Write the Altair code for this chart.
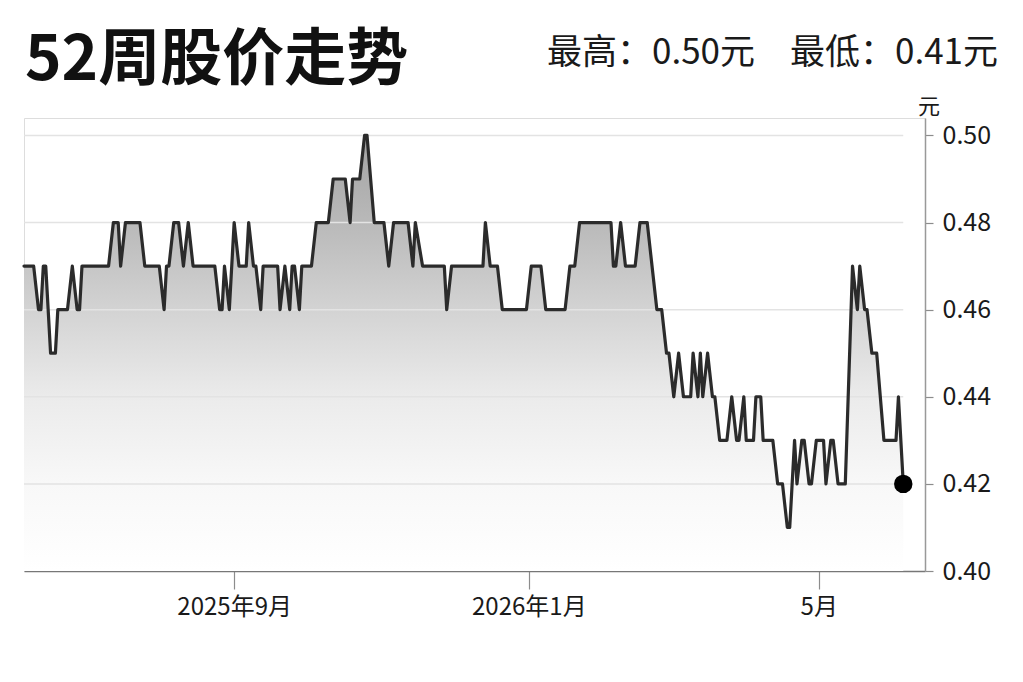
import altair as alt
import pandas as pd

# ---- data ----
dates = [
    "2025-06-06", "2025-06-10", "2025-06-12", "2025-06-13", "2025-06-14", "2025-06-15",
    "2025-06-17", "2025-06-19", "2025-06-20", "2025-06-24", "2025-06-26", "2025-06-28",
    "2025-06-29", "2025-06-30", "2025-07-11", "2025-07-13", "2025-07-15", "2025-07-16",
    "2025-07-18", "2025-07-24", "2025-07-26", "2025-08-01", "2025-08-03", "2025-08-04",
    "2025-08-05", "2025-08-07", "2025-08-09", "2025-08-11", "2025-08-13", "2025-08-15",
    "2025-08-24", "2025-08-26", "2025-08-27", "2025-08-28", "2025-08-30", "2025-09-01",
    "2025-09-03", "2025-09-06", "2025-09-07", "2025-09-09", "2025-09-10", "2025-09-12",
    "2025-09-13", "2025-09-19", "2025-09-20", "2025-09-22", "2025-09-24", "2025-09-25",
    "2025-09-26", "2025-09-28", "2025-09-29", "2025-10-03", "2025-10-05", "2025-10-10",
    "2025-10-12", "2025-10-17", "2025-10-19", "2025-10-20", "2025-10-23", "2025-10-25",
    "2025-10-26", "2025-10-29", "2025-11-02", "2025-11-04", "2025-11-06", "2025-11-12",
    "2025-11-14", "2025-11-15", "2025-11-18", "2025-11-27", "2025-11-28", "2025-11-30",
    "2025-12-13", "2025-12-14", "2025-12-16", "2025-12-19", "2025-12-21", "2025-12-31",
    "2026-01-02", "2026-01-06", "2026-01-08", "2026-01-16", "2026-01-18", "2026-01-20",
    "2026-01-22", "2026-02-04", "2026-02-05", "2026-02-06", "2026-02-08", "2026-02-10",
    "2026-02-14", "2026-02-16", "2026-02-19", "2026-02-23", "2026-02-25", "2026-02-27",
    "2026-02-28", "2026-03-02", "2026-03-04", "2026-03-06", "2026-03-09", "2026-03-10",
    "2026-03-12", "2026-03-13", "2026-03-14", "2026-03-16", "2026-03-18", "2026-03-19",
    "2026-03-21", "2026-03-24", "2026-03-26", "2026-03-28", "2026-03-29", "2026-03-31",
    "2026-04-01", "2026-04-04", "2026-04-05", "2026-04-07", "2026-04-08", "2026-04-12",
    "2026-04-14", "2026-04-16", "2026-04-18", "2026-04-19", "2026-04-21", "2026-04-22",
    "2026-04-24", "2026-04-25", "2026-04-27", "2026-04-28", "2026-04-30", "2026-05-03",
    "2026-05-04", "2026-05-06", "2026-05-07", "2026-05-09", "2026-05-12", "2026-05-15",
    "2026-05-17", "2026-05-18", "2026-05-20", "2026-05-21", "2026-05-23", "2026-05-25",
    "2026-05-28", "2026-06-02", "2026-06-03", "2026-06-05",
]
prices = [
    0.47, 0.47, 0.46, 0.46, 0.47, 0.47,
    0.45, 0.45, 0.46, 0.46, 0.47, 0.46,
    0.46, 0.47, 0.47, 0.48, 0.48, 0.47,
    0.48, 0.48, 0.47, 0.47, 0.46, 0.47,
    0.47, 0.48, 0.48, 0.47, 0.48, 0.47,
    0.47, 0.46, 0.46, 0.47, 0.46, 0.48,
    0.47, 0.47, 0.48, 0.47, 0.47, 0.46,
    0.47, 0.47, 0.46, 0.47, 0.46, 0.47,
    0.47, 0.46, 0.47, 0.47, 0.48, 0.48,
    0.49, 0.49, 0.48, 0.49, 0.49, 0.50,
    0.50, 0.48, 0.48, 0.47, 0.48, 0.48,
    0.47, 0.48, 0.47, 0.47, 0.46, 0.47,
    0.47, 0.48, 0.47, 0.47, 0.46, 0.46,
    0.47, 0.47, 0.46, 0.46, 0.47, 0.47,
    0.48, 0.48, 0.47, 0.47, 0.48, 0.47,
    0.47, 0.48, 0.48, 0.46, 0.46, 0.45,
    0.45, 0.44, 0.45, 0.44, 0.44, 0.45,
    0.44, 0.45, 0.44, 0.45, 0.44, 0.44,
    0.43, 0.43, 0.44, 0.43, 0.43, 0.44,
    0.43, 0.43, 0.44, 0.44, 0.43, 0.43,
    0.42, 0.42, 0.41, 0.41, 0.43, 0.42,
    0.43, 0.43, 0.42, 0.42, 0.43, 0.43,
    0.42, 0.43, 0.43, 0.42, 0.42, 0.47,
    0.46, 0.47, 0.46, 0.46, 0.45, 0.45,
    0.43, 0.43, 0.44, 0.42,
]
grid_values = [0.42, 0.44, 0.46, 0.48, 0.50]
y_ticks = [0.40, 0.42, 0.44, 0.46, 0.48, 0.50]
y_domain = [0.40, 0.504]
tick_dates = ["2025-09-01", "2026-01-01", "2026-05-01"]
tick_labels = ["2025年9月", "2026年1月", "5月"]
domain_end = "2026-06-14"
title_text = "52周股价走势"
unit_text = "元"

FONT = "Noto Sans CJK SC"


def dt(s):
    t = pd.Timestamp(s)
    return alt.DateTime(year=t.year, month=t.month, date=t.day)


df = pd.DataFrame({"date": pd.to_datetime(dates), "price": prices})
hi, lo = max(prices), min(prices)
stats_text = f"最高：{hi:.2f}元\u3000最低：{lo:.2f}元"

label_expr = " : ".join(
    f"month(datum.value) == {pd.Timestamp(d).month - 1} ? '{lab}'"
    for d, lab in zip(tick_dates, tick_labels)
) + " : ''"

x_scale = alt.Scale(domain=[dt(dates[0]), dt(domain_end)])
y_scale = alt.Scale(domain=y_domain, nice=False, zero=False)

x_axis = alt.Axis(
    values=[dt(d) for d in tick_dates], labelExpr=label_expr, title=None, grid=False,
    tickSize=18, tickColor="#8c8c8c", tickWidth=1.2, domainColor="#777777", domainWidth=1.5,
    labelFontSize=24, labelColor="#1a1a1a", labelPadding=6, labelFont=FONT,
)
y_axis = alt.Axis(
    orient="right", values=y_ticks, format=".2f", title=None, grid=False,
    tickSize=8, tickColor="#8c8c8c", tickWidth=1.2, domainColor="#999999", domainWidth=1.5,
    labelFontSize=25, labelColor="#1a1a1a", labelPadding=9, labelFont=FONT,
)

base = alt.Chart(df)

area = base.mark_area(
    interpolate="linear",
    color=alt.Gradient(
        gradient="linear",
        stops=[
            alt.GradientStop(color="#a2a2a2", offset=0),
            alt.GradientStop(color="#b9b9b9", offset=0.2),
            alt.GradientStop(color="#d3d3d3", offset=0.4),
            alt.GradientStop(color="#ebebeb", offset=0.6),
            alt.GradientStop(color="#f8f8f8", offset=0.8),
            alt.GradientStop(color="#ffffff", offset=1),
        ],
        x1=0, x2=0, y1=0, y2=1,
    ),
).encode(
    x=alt.X("date:T", scale=x_scale, axis=x_axis),
    y=alt.Y("price:Q", scale=y_scale, axis=y_axis),
    y2=alt.datum(y_domain[0]),
)

grid_df = pd.DataFrame({
    "price": grid_values,
    "date": pd.to_datetime([dates[0]] * len(grid_values)),
    "date_end": pd.to_datetime([dates[-1]] * len(grid_values)),
})
grid = alt.Chart(grid_df).mark_rule(color="#e3e3e3", strokeWidth=1.5).encode(
    x=alt.X("date:T", title=None),
    x2="date_end:T",
    y=alt.Y("price:Q", title=None),
)

line = base.mark_line(
    color="#2b2b2b", strokeWidth=3.2, strokeJoin="round", strokeCap="round", interpolate="linear"
).encode(
    x=alt.X("date:T", title=None),
    y=alt.Y("price:Q", title=None),
)

dot = alt.Chart(df.tail(1)).mark_circle(size=340, color="#000000", opacity=1).encode(
    x=alt.X("date:T", title=None),
    y=alt.Y("price:Q", title=None),
)

title = alt.Chart(pd.DataFrame({"t": [title_text]})).mark_text(
    font=FONT, fontSize=62, fontWeight="bold", color="#111111",
    align="left", baseline="alphabetic",
).encode(text="t:N", x=alt.value(1), y=alt.value(-38))

stats = alt.Chart(pd.DataFrame({"t": [stats_text]})).mark_text(
    font=FONT, fontSize=35, color="#1a1a1a", align="right", baseline="alphabetic",
).encode(text="t:N", x=alt.value(974), y=alt.value(-54))

unit = alt.Chart(pd.DataFrame({"t": [unit_text]})).mark_text(
    font=FONT, fontSize=22, color="#1a1a1a", align="center", baseline="alphabetic",
).encode(text="t:N", x=alt.value(905), y=alt.value(-4))

chart = alt.layer(area, grid, line, dot, title, stats, unit).properties(
    width=901,
    height=453,
    padding={"left": 16, "top": 110, "right": 90, "bottom": 60},
    autosize=alt.AutoSizeParams(type="none"),
    background="#ffffff",
).configure_view(stroke=None).configure(font=FONT)

chart.save("out.html", embed_options={"renderer": "svg", "actions": False})
